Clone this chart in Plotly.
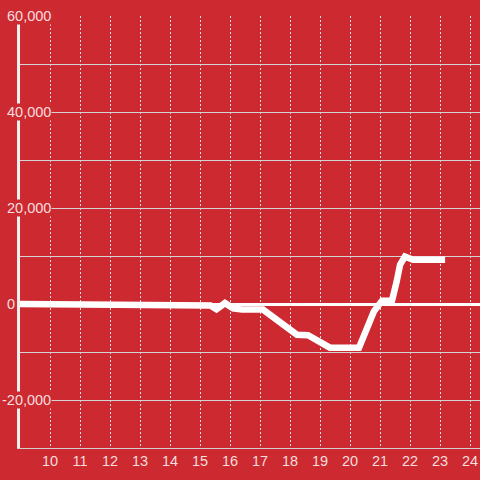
import plotly.graph_objects as go

# ---- data ----
hours = [9.0, 13.95, 14.05, 15.35, 15.55, 15.83, 16.1, 16.4, 17.1, 18.23, 18.6,
         19.33, 20.3, 20.55, 20.8, 21.07, 21.4, 21.55, 21.67, 21.83, 22.1, 23.17]
values = [0, 0, -300, -300, -1100, 200, -900, -1150, -1150, -6400, -6500,
          -9100, -9100, -5000, -1500, 700, 700, 4500, 8200, 9900, 9200, 9200]

x_tick_vals = [10, 11, 12, 13, 14, 15, 16, 17, 18, 19, 20, 21, 22, 23, 24]
x_tick_text = [str(v) for v in x_tick_vals]
y_label_vals = [-20000, 0, 20000, 40000, 60000]
y_label_text = ["-20,000", "0", "20,000", "40,000", "60,000"]

BG = "#cc2a30"
TXT = "#f6dede"
FONT = "Liberation Sans, Arial, sans-serif"

fig = go.Figure()
fig.add_trace(go.Scatter(
    x=hours, y=values, mode="lines",
    line=dict(color="#ffffff", width=6.5),
    hoverinfo="skip", showlegend=False,
))

# y labels as annotations with background (they cover the gridlines/axis line)
L, W = 20, 460
for v, t in zip(y_label_vals, y_label_text):
    right_px = 52 if len(t) > 1 else 16
    fig.add_annotation(
        x=(right_px - L) / W, xref="paper", xanchor="right",
        y=v, yref="y", yanchor="middle",
        text=t, showarrow=False,
        font=dict(family=FONT, size=14.5, color=TXT),
        bgcolor=BG, borderpad=0,
    )

fig.update_layout(
    width=480, height=480,
    margin=dict(l=20, r=0, t=16, b=32),
    paper_bgcolor=BG, plot_bgcolor=BG,
    font=dict(family=FONT, size=14.5, color=TXT),
    showlegend=False,
    xaxis=dict(
        range=[9, 9 + 460 / 30],
        tickvals=x_tick_vals, ticktext=x_tick_text,
        showgrid=True, gridcolor="#e8e0e0", gridwidth=1, griddash="2px,2px",
        zeroline=False,
        showline=True, linecolor="#cfcfcf", linewidth=1,
        ticks="",
        tickfont=dict(family=FONT, size=14.5, color=TXT),
        fixedrange=True,
    ),
    yaxis=dict(
        range=[-30000, 60000], dtick=10000, tick0=0,
        showgrid=True, gridcolor="#d4d4d4", gridwidth=1,
        zeroline=True, zerolinecolor="#ffffff", zerolinewidth=3,
        showline=True, linecolor="#f0eeee", linewidth=3,
        showticklabels=False, ticks="",
        fixedrange=True,
    ),
)

fig.write_html(
    "out.html",
    config={"displayModeBar": False},
    post_script="document.body.style.margin='0';document.body.style.overflow='hidden';",
)
